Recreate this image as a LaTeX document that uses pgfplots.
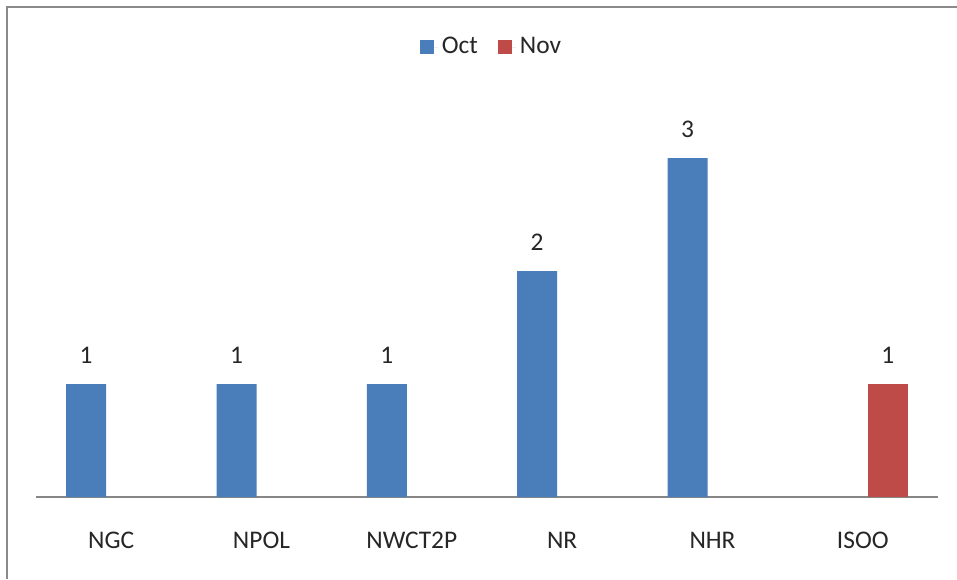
\documentclass[border=0pt]{standalone}
\usepackage{pgfplots}
\pgfplotsset{compat=1.18}
\usepackage{fontspec}
\setmainfont{Carlito}
\definecolor{octblue}{HTML}{4A7EBB}
\definecolor{novred}{HTML}{BE4B48}
\definecolor{framegray}{HTML}{8A8A8A}
\definecolor{axisgray}{HTML}{868686}
\begin{document}
\fontsize{12.7pt}{15pt}\selectfont
\begin{tikzpicture}
\useasboundingbox (0pt,0pt) rectangle (478.5pt,289.5pt);
\fill[white] (0pt,0pt) rectangle (478.5pt,289.5pt);
\draw[framegray, line width=1pt] (3.5pt,0pt) -- (3.5pt,286pt) -- (478.5pt,286pt);
\begin{axis}[
  at={(18pt,41pt)}, anchor=south west,
  scale only axis, width=451pt, height=197.75pt,
  xmin=-0.5, xmax=5.5, ymin=0, ymax=3.5,
  /pgf/number format/assume math mode=true,
  axis x line*=bottom, axis y line=none,
  x axis line style={axisgray, line width=0.75pt},
  xtick={0,1,2,3,4,5},
  xticklabels={NGC,NPOL,NWCT2P,NR,NHR,ISOO},
  major tick length=0pt,
  xticklabel style={anchor=center, yshift=-21.5pt, text=black!85, font=\fontsize{12.7pt}{15pt}\selectfont},
  ybar, bar width=20pt,
  nodes near coords={\pgfmathprintnumber[assume math mode=true]{\pgfplotspointmeta}},
  every node near coord/.append style={anchor=south, inner sep=0pt, yshift=10pt, text=black!85, font=\fontsize{12.7pt}{15pt}\selectfont},
  legend style={at={(0.506,1.1378)}, anchor=center, draw=none, legend columns=2,
    text=black!85,
    font=\fontsize{12.7pt}{15pt}\selectfont,
    /tikz/every even column/.append style={column sep=8pt}},
  legend image code/.code={\fill[#1] (0pt,-3.5pt) rectangle (7pt,3.5pt); \path (0pt,0pt) -- (9pt,0pt);},
  clip=false,
]
\addplot[fill=octblue, draw=none, bar shift=-12.5pt] coordinates {(0,1) (1,1) (2,1) (3,2) (4,3)};
\addplot[fill=novred, draw=none, bar shift=12.5pt] coordinates {(5,1)};
\legend{Oct,Nov}
\end{axis}
\end{tikzpicture}
\end{document}
